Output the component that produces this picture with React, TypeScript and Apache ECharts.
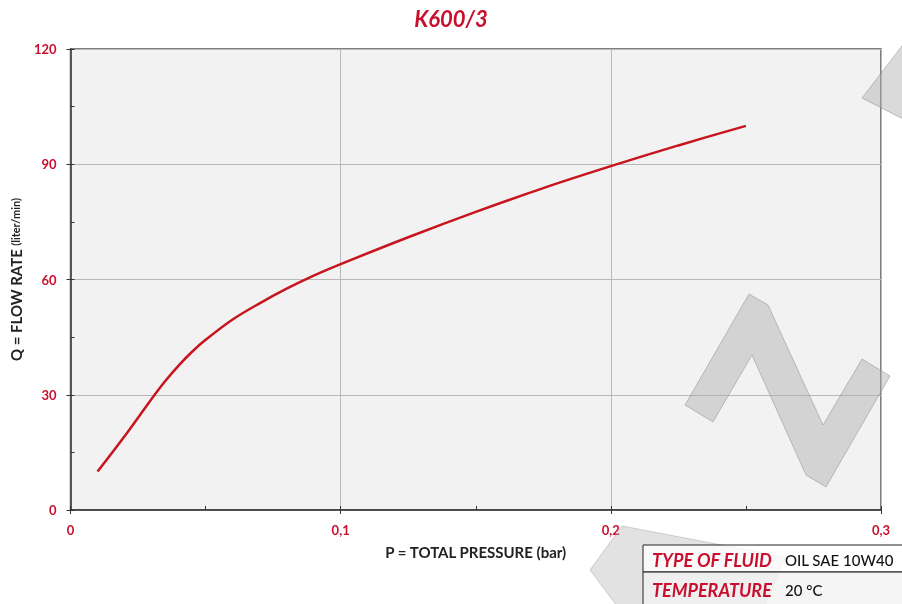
import React, { useEffect, useRef } from "react";
import * as echarts from "echarts";

const pressure = [0.01, 0.02, 0.03, 0.035, 0.04, 0.045, 0.05, 0.06, 0.07, 0.08, 0.09, 0.1, 0.125, 0.15, 0.175, 0.2, 0.225, 0.25];
const flow = [10, 19.2, 28.9, 33.5, 37.6, 41.2, 44.3, 49.6, 53.8, 57.6, 61, 64, 71, 77.6, 83.8, 89.5, 94.9, 100];

const titleText = "K600/3";
const xName = "P = TOTAL PRESSURE (bar)";
const yNameMain = "Q = FLOW RATE";
const yNameUnit = "(liter/min)";
const tableRows = [
  ["TYPE OF FLUID", "OIL SAE 10W40"],
  ["TEMPERATURE", "20 °C"],
];

const RED = "#c8102e";
const FONT = "Lato, 'Open Sans', sans-serif";

const wmStyle = { fill: "rgba(175,175,175,0.46)", stroke: "rgba(140,140,140,0.5)", lineWidth: 1 };

export default function App() {
  const ref = useRef<HTMLDivElement>(null);
  useEffect(() => {
    const chart = echarts.init(ref.current!, undefined, { renderer: "svg" });
    const data = pressure.map((p, i) => [p, flow[i]]);
    chart.setOption({
      animation: false,
      title: {
        text: titleText,
        left: "center",
        top: 2,
        textStyle: { color: RED, fontSize: 22, fontWeight: "bold", fontStyle: "italic", fontFamily: FONT },
      },
      grid: {
        left: 68,
        right: 21,
        top: 49,
        bottom: 94,
        show: true,
        backgroundColor: "#f2f2f2",
        borderColor: "#555",
        borderWidth: 1.5,
      },
      xAxis: [
        {
          type: "value",
          min: 0,
          max: 0.3,
          interval: 0.1,
          name: xName,
          nameLocation: "middle",
          nameGap: 34,
          nameTextStyle: { color: "#222", fontSize: 15, fontWeight: "bold", fontFamily: FONT },
          axisLine: { show: true, lineStyle: { color: "#333", width: 1.5 } },
          axisTick: { show: true, length: 4, lineStyle: { color: "#333" } },
          axisLabel: {
            color: RED,
            fontSize: 13,
            fontWeight: "bold",
            fontFamily: FONT,
            margin: 13,
            formatter: (v: number) => String(Math.round(v * 10) / 10).replace(".", ","),
          },
          splitLine: { show: true, lineStyle: { color: "#b8b8b8", width: 1 } },
        },
        {
          type: "value",
          min: 0,
          max: 0.3,
          interval: 0.05,
          position: "bottom",
          axisLine: { show: false },
          axisTick: { show: true, inside: true, length: 4, lineStyle: { color: "#333" } },
          axisLabel: { show: false },
          splitLine: { show: false },
        },
      ],
      yAxis: [
        {
          type: "value",
          min: 0,
          max: 120,
          interval: 30,
          name: "{a|" + yNameMain + "} {b|" + yNameUnit + "}",
          nameLocation: "middle",
          nameGap: 42,
          nameTextStyle: {
            rich: {
              a: { color: "#222", fontSize: 15, fontWeight: "bold", fontFamily: FONT },
              b: { color: "#222", fontSize: 11, fontWeight: "bold", fontFamily: FONT },
            },
          },
          axisLine: { show: true, lineStyle: { color: "#333", width: 1.5 } },
          axisTick: { show: true, length: 4, lineStyle: { color: "#333" } },
          axisLabel: { color: RED, fontSize: 13, fontWeight: "bold", fontFamily: FONT, margin: 14 },
          splitLine: { show: true, lineStyle: { color: "#b8b8b8", width: 1 } },
        },
        {
          type: "value",
          min: 0,
          max: 120,
          interval: 15,
          position: "left",
          axisLine: { show: false },
          axisTick: { show: true, inside: true, length: 4, lineStyle: { color: "#333" } },
          axisLabel: { show: false },
          splitLine: { show: false },
        },
      ],
      series: [
        {
          type: "line",
          data,
          smooth: 0.35,
          showSymbol: false,
          lineStyle: { color: "#c8141e", width: 2.5 },
          z: 5,
        },
      ],
      graphic: [
        {
          type: "polygon",
          z: 40,
          shape: { points: [[622, 526], [785, 557], [765, 606], [617, 606], [590, 570]] },
          style: { fill: "rgba(175,175,175,0.36)", stroke: "rgba(150,150,150,0.4)", lineWidth: 1 },
        },
        {
          type: "rect",
          z: 50,
          shape: { x: 643, y: 545, width: 270, height: 27 },
          style: { fill: "rgba(255,255,255,0.8)", stroke: "#222", lineWidth: 1 },
        },
        {
          type: "rect",
          z: 50,
          shape: { x: 643, y: 572, width: 270, height: 40 },
          style: { fill: "rgba(243,243,243,0.8)", stroke: "#222", lineWidth: 1 },
        },
        {
          type: "text",
          z: 51,
          x: 652,
          y: 560,
          style: { text: tableRows[0][0], fill: RED, font: `italic bold 18px ${FONT}`, verticalAlign: "middle" },
        },
        {
          type: "text",
          z: 51,
          x: 785,
          y: 560,
          style: { text: tableRows[0][1], fill: "#111", font: `500 15px ${FONT}`, verticalAlign: "middle" },
        },
        {
          type: "text",
          z: 51,
          x: 652,
          y: 590,
          style: { text: tableRows[1][0], fill: RED, font: `italic bold 18px ${FONT}`, verticalAlign: "middle" },
        },
        {
          type: "text",
          z: 51,
          x: 785,
          y: 590,
          style: { text: tableRows[1][1], fill: "#111", font: `500 15px ${FONT}`, verticalAlign: "middle" },
        },
        {
          type: "polygon",
          z: 100,
          shape: { points: [[862, 98], [905, 42], [905, 120]] },
          style: wmStyle,
        },
        {
          type: "polygon",
          z: 100,
          shape: {
            points: [
              [685, 405], [749, 294], [768, 305], [823, 425], [862, 359],
              [890, 376], [826, 487], [806, 475], [752, 355], [713, 422],
            ],
          },
          style: wmStyle,
        },
      ],
    });
    return () => chart.dispose();
  }, []);
  return <div ref={ref} style={{ position: "fixed", left: 0, top: 0, width: 902, height: 604 }} />;
}
